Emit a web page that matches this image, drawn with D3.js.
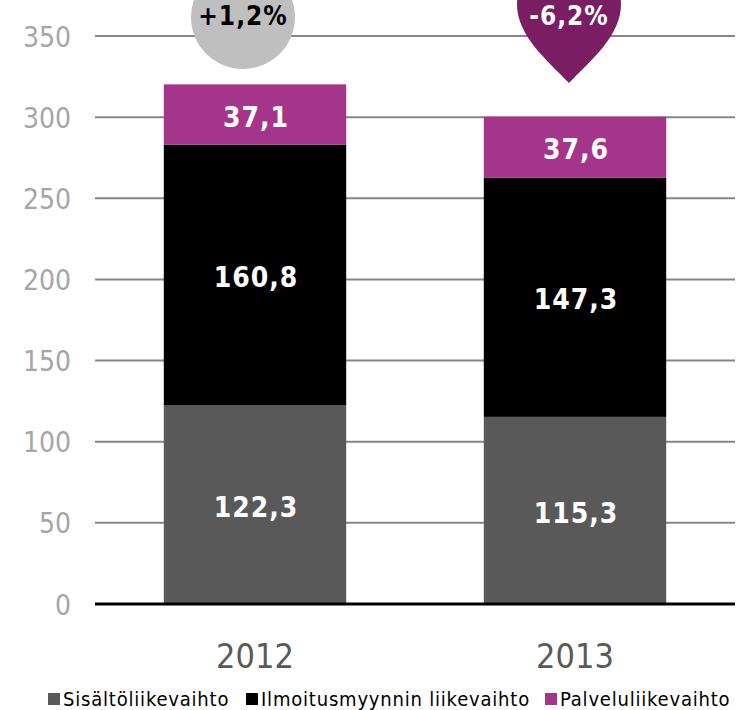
<!DOCTYPE html>
<html>
<head>
<meta charset="utf-8">
<script src="https://cdn.jsdelivr.net/npm/d3@7"></script>
<style>
  html, body { margin: 0; padding: 0; background: #fff; }
  svg { display: block; }
  text { font-family: "DejaVu Sans Condensed", "DejaVu Sans", sans-serif; }
</style>
</head>
<body>
<svg id="chart" width="742" height="710"></svg>
<script>
// Revenue by type, 2012–2013 (M€)
const years = ["2012", "2013"];
const seriesNames = ["Sisältöliikevaihto", "Ilmoitusmyynnin liikevaihto", "Palveluliikevaihto"];
const sisalto = [122.3, 115.3];
const ilmoitus = [160.8, 147.3];
const palvelu = [37.1, 37.6];
const changes = ["+1,2%", "-6,2%"];
const yTicks = [0, 50, 100, 150, 200, 250, 300, 350];
const colors = ["#595959", "#000000", "#a5358a"];

const svg = d3.select("#chart");
const plot = { left: 95, right: 735, top: 36, bottom: 604 };

const x = d3.scaleBand().domain(years).range([plot.left, plot.right]).paddingInner(0.43).paddingOuter(0.215);
const y = d3.scaleLinear().domain([0, 350]).range([plot.bottom, plot.top]);

// gridlines
svg.append("g").selectAll("line").data(yTicks.filter(d => d > 0)).join("line")
  .attr("x1", plot.left).attr("x2", plot.right)
  .attr("y1", d => y(d)).attr("y2", d => y(d))
  .attr("stroke", "#868686").attr("stroke-width", 2);

// y axis labels
const yAxis = d3.axisLeft(y).tickValues(yTicks).tickSize(0).tickPadding(0).tickFormat(d3.format("d"));
const yg = svg.append("g").attr("transform", `translate(71,0)`).call(yAxis);
yg.select(".domain").remove();
yg.selectAll("text").attr("fill", "#a6a6a6").attr("font-size", 28).attr("dy", "0.36em")
  .attr("font-family", "DejaVu Sans Condensed, DejaVu Sans, sans-serif");

// stacked bars
const rows = years.map((yr, i) => ({ year: yr, s0: sisalto[i], s1: ilmoitus[i], s2: palvelu[i] }));
const stack = d3.stack().keys(["s0", "s1", "s2"])(rows);

const layers = svg.append("g").selectAll("g").data(stack).join("g")
  .attr("fill", (d, i) => colors[i]);
layers.selectAll("rect").data(d => d).join("rect")
  .attr("x", d => x(d.data.year))
  .attr("width", x.bandwidth())
  .attr("y", d => y(d[1]))
  .attr("height", d => y(d[0]) - y(d[1]));

// segment labels
layers.selectAll("text").data(d => d).join("text")
  .attr("x", d => x(d.data.year) + x.bandwidth() / 2 + 1)
  .attr("y", d => (y(d[0]) + y(d[1])) / 2 + 2)
  .attr("dy", "0.36em")
  .attr("text-anchor", "middle")
  .attr("fill", "#fff")
  .attr("font-weight", "bold")
  .attr("font-size", 28)
  .attr("letter-spacing", 1)
  .text(d => d3.format(".1f")(d[1] - d[0]).replace(".", ","));

// baseline
svg.append("line")
  .attr("x1", plot.left).attr("x2", plot.right)
  .attr("y1", y(0)).attr("y2", y(0))
  .attr("stroke", "#000").attr("stroke-width", 3);

// category labels
svg.append("g").selectAll("text").data(years).join("text")
  .attr("x", d => x(d) + x.bandwidth() / 2)
  .attr("y", 668)
  .attr("text-anchor", "middle")
  .attr("fill", "#595959")
  .attr("font-size", 34)
  .text(d => d);

// change badges
const c0 = x("2012") + x.bandwidth() / 2 - 12;
svg.append("circle").attr("cx", c0).attr("cy", 17).attr("r", 52).attr("fill", "#bfbfbf");
svg.append("text").attr("x", c0).attr("y", 25).attr("text-anchor", "middle")
  .attr("font-weight", "bold").attr("font-size", 26).attr("letter-spacing", 1)
  .attr("fill", "#000").text(changes[0]);

const c1 = x("2013") + x.bandwidth() / 2 - 6;
const heart = d3.path();
heart.moveTo(c1, 83);
heart.bezierCurveTo(c1 - 22, 60, c1 - 52, 36, c1 - 52, 4);
heart.bezierCurveTo(c1 - 52, -30, c1 - 4, -30, c1, -10);
heart.bezierCurveTo(c1 + 4, -30, c1 + 52, -30, c1 + 52, 4);
heart.bezierCurveTo(c1 + 52, 36, c1 + 22, 60, c1, 83);
heart.closePath();
svg.append("path").attr("d", heart.toString()).attr("fill", "#7a1d63");
svg.append("text").attr("x", c1).attr("y", 25).attr("text-anchor", "middle")
  .attr("font-weight", "bold").attr("font-size", 26).attr("letter-spacing", 1)
  .attr("fill", "#fff").text(changes[1]);

// legend
const legendX = [48, 246, 545];
const lg = svg.append("g").selectAll("g").data(seriesNames).join("g")
  .attr("transform", (d, i) => `translate(${legendX[i]},693)`);
lg.append("rect").attr("width", 12).attr("height", 12).attr("fill", (d, i) => colors[i]);
lg.append("text").attr("x", 15).attr("y", 13)
  .attr("font-size", 20).attr("letter-spacing", 0.8).attr("fill", "#000")
  .text(d => d);
</script>
</body>
</html>
